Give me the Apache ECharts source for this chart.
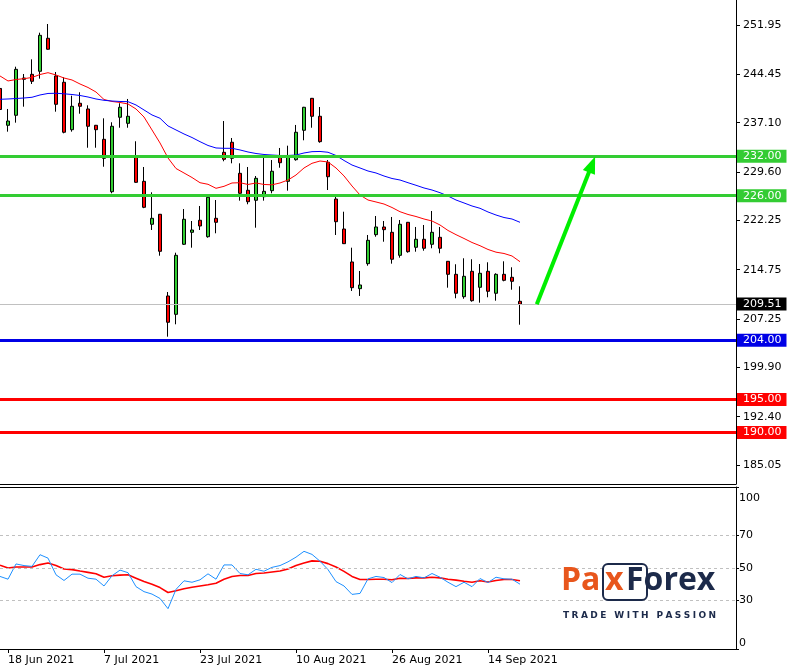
<!DOCTYPE html>
<html><head><meta charset="utf-8">
<script src="https://cdn.jsdelivr.net/npm/echarts@6/dist/echarts.min.js"></script>
<style>html,body{margin:0;padding:0;background:#fff}#c{width:792px;height:668px}</style>
</head><body><div id="c"></div>
<script>
// ---------- DATA ----------
const dates = ['17 Jun 2021','18 Jun 2021','21 Jun 2021','22 Jun 2021','23 Jun 2021','24 Jun 2021','25 Jun 2021','28 Jun 2021','29 Jun 2021','30 Jun 2021',
'1 Jul 2021','2 Jul 2021','6 Jul 2021','7 Jul 2021','8 Jul 2021','9 Jul 2021','12 Jul 2021','13 Jul 2021','14 Jul 2021','15 Jul 2021','16 Jul 2021','19 Jul 2021','20 Jul 2021','21 Jul 2021','22 Jul 2021','23 Jul 2021','26 Jul 2021','27 Jul 2021','28 Jul 2021','29 Jul 2021','30 Jul 2021',
'2 Aug 2021','3 Aug 2021','4 Aug 2021','5 Aug 2021','6 Aug 2021','9 Aug 2021','10 Aug 2021','11 Aug 2021','12 Aug 2021','13 Aug 2021','16 Aug 2021','17 Aug 2021','18 Aug 2021','19 Aug 2021','20 Aug 2021','23 Aug 2021','24 Aug 2021','25 Aug 2021','26 Aug 2021','27 Aug 2021','30 Aug 2021','31 Aug 2021',
'1 Sep 2021','2 Sep 2021','3 Sep 2021','7 Sep 2021','8 Sep 2021','9 Sep 2021','10 Sep 2021','13 Sep 2021','14 Sep 2021','15 Sep 2021','16 Sep 2021','17 Sep 2021','20 Sep 2021'];
const emptySlots = 27; // empty space to the right of the last bar
const open  = [242.3,236.70,238.22,243.69,244.45,244.91,249.93,244.2,243.24,236.03,240.05,239.18,236.70,234.57,226.6,237.92,237.0,231.93,228.18,221.65,223.17,210.75,207.96,218.61,220.43,222.26,219.76,222.56,232.59,234.12,229.4,226.82,225.3,225.84,226.76,231.88,228.18,231.47,235.94,240.8,238.07,231.07,225.49,220.93,215.92,211.86,215.66,220.07,221.24,220.43,216.93,221.95,218.15,219.37,218.61,219.67,216.02,214.04,210.64,214.5,212.07,214.5,211.16,214.04,213.59,209.94];
const close = [239.1,237.35,245.21,243.89,243.39,250.38,248.26,239.89,235.64,239.59,239.59,236.55,236.03,231.68,236.55,239.44,238.07,228.03,224.23,222.56,217.54,206.75,216.93,222.41,220.78,221.39,225.75,221.95,231.53,231.68,226.36,225.08,228.64,226.66,229.71,231.01,231.93,235.64,239.44,238.07,234.21,228.88,222.04,218.7,212.01,212.42,219.21,221.24,220.83,216.33,221.65,217.48,219.37,218.0,220.43,218.0,214.04,211.16,213.74,210.03,214.2,211.46,214.04,213.13,212.98,209.51];
const low   = [237.4,235.73,237.10,239.53,242.98,243.79,248.2,238.77,235.48,235.73,238.46,233.29,233.29,230.4,226.36,236.33,236.33,227.95,224.1,220.78,216.87,204.56,206.44,218.5,218.09,220.78,219.61,220.28,231.23,230.92,225.24,224.69,221.13,225.24,226.36,230.25,226.76,231.32,234.42,236.33,234.05,226.86,220.02,218.65,211.51,210.75,215.35,219.76,219.0,215.66,216.57,217.33,217.48,217.63,218.0,217.24,212.01,210.4,210.33,209.88,209.73,210.55,210.03,212.98,211.7,206.38];
const high  = [243.0,239.18,245.61,244.5,246.73,250.78,252.1,244.8,244.0,241.2,241.72,239.74,236.75,237.76,237.16,240.05,240.7,234.27,230.36,226.51,223.2,211.35,217.33,223.97,222.15,224.43,225.8,225.34,237.35,234.77,230.92,230.36,228.99,231.93,231.42,233.25,233.6,236.75,239.5,240.85,239.48,231.42,225.84,223.56,218.09,214.55,220.02,222.91,222.15,222.76,222.30,222.0,221.24,221.54,223.67,221.24,216.05,215.57,216.48,216.33,215.61,215.87,214.2,216.02,215.11,212.22];
const maFast = [244.2,243.44,243.66,243.79,243.97,244.42,244.7,244.35,243.89,243.59,242.98,242.45,241.76,240.62,240.32,240.17,239.94,239.18,237.96,235.99,234.01,231.73,230.13,229.45,228.76,227.97,227.73,227.12,227.42,227.93,227.97,227.7,227.93,227.7,227.65,227.93,228.38,229.14,230.21,230.92,231.27,231.12,230.21,229.0,227.47,226.1,225.34,225.04,224.73,224.2,223.56,223.14,222.83,222.45,222.15,221.54,220.71,220.07,219.49,218.88,218.39,217.82,217.41,217.21,216.83,215.96];
const maSlow = [240.65,240.7,240.77,240.85,240.96,241.31,241.54,241.57,241.49,241.38,241.23,241.0,240.7,240.5,240.39,240.32,240.29,239.79,239.03,238.27,237.77,236.6,235.99,235.38,234.84,234.21,233.63,233.25,233.2,233.2,232.95,232.64,232.41,232.26,232.18,232.11,232.11,232.18,232.49,232.69,232.72,232.6,232.11,231.35,230.66,230.21,229.75,229.45,228.99,228.61,228.38,227.97,227.58,227.17,226.86,226.45,225.95,225.34,224.89,224.43,224.08,223.52,223.06,222.68,222.45,221.95];
const oscMain = [44.8,43.1,52.5,51.5,51.0,58.2,56.1,45.8,42.3,46.2,46.2,43.7,43.1,38.9,45.2,48.7,47.1,38.5,35.4,33.9,31.2,24.9,36.8,42.1,41.2,42.7,46.4,43.1,51.9,51.9,46.6,45.8,49.2,48.0,50.4,51.5,53.8,56.7,60.3,58.4,54.2,49.0,41.6,38.9,33.7,34.3,43.3,44.8,44.1,41.0,46.0,43.3,44.8,43.9,46.6,44.3,41.2,38.5,41.2,38.5,43.5,41.0,44.3,43.3,43.1,40.0];
const oscSignal = [51.7,50.0,50.6,50.6,50.6,52.1,53.1,51.5,49.4,49.0,48.1,47.3,46.4,44.3,45.2,45.6,45.8,43.7,41.6,39.9,37.9,34.9,36.0,37.2,38.1,38.9,39.7,40.6,43.1,44.8,45.4,45.4,46.6,46.9,47.5,48.1,49.4,51.5,53.1,54.4,54.2,52.7,50.6,47.9,44.8,42.9,42.9,43.1,43.1,42.7,43.7,43.5,43.9,43.9,44.3,43.9,43.1,42.5,41.8,41.2,42.1,41.4,42.3,42.9,42.9,42.1];
const priceTicks = [251.95,244.45,237.10,229.60,222.25,214.75,207.25,199.90,192.40,185.05];
const oscTicks = [0,30,50,70,100];
const oscLevels = [30,50,70];
const dateLabelIdx = [1,13,25,37,49,61];
const resistance = [232.00,226.00];
const support1 = [204.00];
const support2 = [195.00,190.00];
const lastPrice = 209.51;
const arrowFrom = [67.1,209.5];   // [bar index, price]
const arrowTo = [74.0,230.75];

// ---------- STYLES ----------
const FONT = '"DejaVu Sans", sans-serif';
const UP = '#32cd32', DOWN = '#ff0000';
const NAVY = '#1c2a4a', ORANGE = '#e8561c';
const categories = dates.concat(new Array(emptySlots).fill(''));
const ohlc = open.map((o,i)=>[o, close[i], low[i], high[i]]);

function levelItem(v, color, width, boxColor){
  return {yAxis: v, lineStyle:{color, width, type:'solid'},
    label:{show:true, position:'end', distance:1, formatter: v.toFixed(2),
      backgroundColor: boxColor, color: '#fff',
      fontFamily: FONT, fontSize: 11, lineHeight: 12, padding:[1,5,0,6]}};
}
const levelData = [];
resistance.forEach(v=>levelData.push(levelItem(v,'#33cc33',3,'#33cc33')));
support1.forEach(v=>levelData.push(levelItem(v,'#0000e6',3,'#0000e6')));
support2.forEach(v=>levelData.push(levelItem(v,'#ff0000',3,'#ff0000')));
levelData.push(levelItem(lastPrice,'#c0c0c0',1,'#000'));

const showLabel = (idx)=>dateLabelIdx.indexOf(idx) >= 0;

function tagline(text, x0, x1, yc, font, color){
  const cv = document.createElement('canvas').getContext('2d');
  cv.font = font;
  const ws = [...text].map(ch=>cv.measureText(ch).width);
  const tot = ws.reduce((a,b)=>a+b,0);
  const sp = (x1 - x0 - tot) / (text.length - 1);
  let x = x0; const els = [];
  [...text].forEach((ch,i)=>{
    els.push({type:'text', x:x, y:yc, z:100, style:{text:ch, font, fill:color, verticalAlign:'middle', align:'left'}});
    x += ws[i] + sp;
  });
  return els;
}

const chart = echarts.init(document.getElementById('c'), null, {renderer:'canvas'});
const option = {
  animation:false,
  backgroundColor:'#fff',
  grid:[
    {left:0, top:0, width:736, height:484},
    {left:0, top:487, width:736, height:162}
  ],
  xAxis:[
    {type:'category', gridIndex:0, data:categories, boundaryGap:false,
      axisLine:{show:true, onZero:false, lineStyle:{color:'#000', width:1}}, axisTick:{show:false}, axisLabel:{show:false}, splitLine:{show:false}},
    {type:'category', gridIndex:1, data:categories, boundaryGap:false, position:'bottom',
      axisLine:{show:true, onZero:false, lineStyle:{color:'#000', width:1}},
      axisTick:{show:true, length:4, interval:(i)=>showLabel(i), lineStyle:{color:'#000'}},
      axisLabel:{show:true, interval:(i)=>showLabel(i), align:'left', margin:6, color:'#000', fontFamily:FONT, fontSize:11},
      splitLine:{show:false}},
    {type:'category', gridIndex:1, data:categories, boundaryGap:false, position:'top',
      axisLine:{show:true, onZero:false, lineStyle:{color:'#000', width:1}}, axisTick:{show:false}, axisLabel:{show:false}, splitLine:{show:false}},
    {type:'value', gridIndex:0, min:0, max:categories.length-1, show:false,
      axisLine:{show:false}, axisTick:{show:false}, axisLabel:{show:false}, splitLine:{show:false}}
  ],
  yAxis:[
    {type:'value', gridIndex:0, position:'right', min:182.16, max:255.75, scale:true,
      axisLine:{show:true, onZero:false, lineStyle:{color:'#000'}},
      axisTick:{show:true, length:4, customValues:priceTicks, lineStyle:{color:'#000'}},
      axisLabel:{show:true, customValues:priceTicks, formatter:(v)=>v.toFixed(2), margin:7, color:'#000', fontFamily:FONT, fontSize:11},
      splitLine:{show:false}},
    {type:'value', gridIndex:1, position:'right', min:0, max:100,
      axisLine:{show:true, onZero:false, lineStyle:{color:'#000'}},
      axisTick:{show:true, length:3, customValues:oscTicks, lineStyle:{color:'#000'}},
      axisLabel:{show:true, customValues:oscTicks, margin:3, color:'#000', fontFamily:FONT, fontSize:11,
        formatter:(v)=> v === 100 ? '{t|100}' : String(v),
        rich:{t:{padding:[6,0,0,0], fontFamily:FONT, fontSize:11, color:'#000'}},
        verticalAlignMaxLabel:'top', verticalAlignMinLabel:'bottom'},
      splitLine:{show:false}}
  ],
  series:[
    {type:'candlestick', xAxisIndex:0, yAxisIndex:0, data:ohlc, barWidth:4, z:2,
      itemStyle:{color:UP, color0:DOWN, borderColor:'#000', borderColor0:'#000', borderWidth:1}},
    {type:'line', xAxisIndex:0, yAxisIndex:0, data:maFast, showSymbol:false, symbol:'none', z:3,
      lineStyle:{color:'#ff0000', width:1}},
    {type:'line', xAxisIndex:0, yAxisIndex:0, data:maSlow, showSymbol:false, symbol:'none', z:3,
      lineStyle:{color:'#0000ff', width:1}},
    {type:'line', xAxisIndex:0, yAxisIndex:0, data:[], z:4,
      markLine:{silent:true, symbol:['none','none'], animation:false, data:levelData}},
    {type:'line', xAxisIndex:3, yAxisIndex:0, data:[], z:5,
      markLine:{silent:true, animation:false, symbol:['none','triangle'], symbolSize:[13,17],
        lineStyle:{color:'#00ee00', width:4, type:'solid'}, label:{show:false},
        data:[[{coord:arrowFrom},{coord:arrowTo}]]}},
    {type:'line', xAxisIndex:1, yAxisIndex:1, data:oscSignal, symbol:'none', z:3,
      lineStyle:{color:'#ff0000', width:1.6}},
    {type:'line', xAxisIndex:1, yAxisIndex:1, data:oscMain, symbol:'none', z:4,
      lineStyle:{color:'#1e90ff', width:1},
      markLine:{silent:true, symbol:['none','none'], animation:false, label:{show:false},
        lineStyle:{color:'#c0c0c0', width:1, type:[3,3]},
        data:oscLevels.map(v=>({yAxis:v}))}}
  ],
  graphic:[
    {type:'rect', z:99, shape:{x:603, y:564, width:44, height:36, r:5}, style:{fill:'#fff', stroke:NAVY, lineWidth:2}},
    {type:'text', z:100, x:561, y:581, style:{text:'Pa', font:'bold 32px "Open Sans"', fill:ORANGE, verticalAlign:'middle'}},
    {type:'text', z:100, x:605, y:581, style:{text:'x', font:'bold 32px "Open Sans"', fill:ORANGE, verticalAlign:'middle'}},
    {type:'text', z:100, x:626, y:581, style:{text:'Forex', font:'bold 32px "Open Sans"', fill:NAVY, verticalAlign:'middle'}}
  ].concat(tagline('TRADE WITH PASSION', 563, 716, 616, 'bold 9px "DejaVu Sans"', NAVY))
};
chart.setOption(option);
</script>
</body></html>
